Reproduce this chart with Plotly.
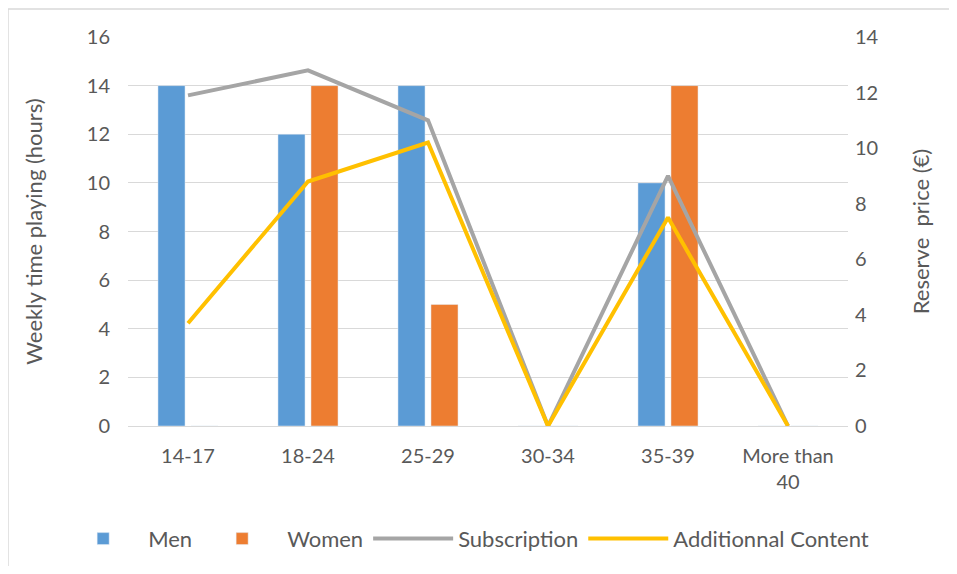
import plotly.graph_objects as go

# data
age_groups = ['14-17', '18-24', '25-29', '30-34', '35-39', 'More than<br>40']
men = [14, 12, 14, 0, 10, 0]
women = [0, 14, 5, 0, 14, 0]
subscription = [11.9, 12.8, 11.0, 0, 9.0, 0]
additional_content = [3.7, 8.8, 10.2, 0, 7.5, 0]

text_color = '#595959'
font_family = 'Lato, Open Sans, sans-serif'

fig = go.Figure()
fig.add_trace(go.Bar(x=age_groups, y=men, name='Men', marker_color='#5b9bd5'))
fig.add_trace(go.Bar(x=age_groups, y=women, name='Women', marker_color='#ed7d31'))
fig.add_trace(go.Scatter(x=age_groups, y=subscription, name='Subscription', yaxis='y2',
                         mode='lines', line=dict(color='#a5a5a5', width=4)))
fig.add_trace(go.Scatter(x=age_groups, y=additional_content, name='Additionnal Content', yaxis='y2',
                         mode='lines', line=dict(color='#ffc000', width=4)))

# page has an 8px body margin, so the figure is a bit smaller than the window
fig.update_layout(
    width=941, height=558,
    margin=dict(l=120, r=101, t=29, b=140, autoexpand=False),
    paper_bgcolor='white', plot_bgcolor='white',
    font=dict(family=font_family, color=text_color, size=20),
    barmode='group', bargap=0.45, bargroupgap=0.18,
    xaxis=dict(showgrid=False, showline=True, linecolor='#d9d9d9', ticks='',
               tickfont=dict(size=20), ticklabelstandoff=12),
    yaxis=dict(title=dict(text='Weekly time playing (hours)', font=dict(size=22), standoff=38),
               range=[0, 16], dtick=2, gridcolor='#d9d9d9', zeroline=False,
               ticks='', tickfont=dict(size=20), ticklabelstandoff=17),
    yaxis2=dict(title=dict(text='Reserve  price (€)', font=dict(size=22), standoff=36),
                range=[0, 14], dtick=2, overlaying='y', side='right', showgrid=False,
                zeroline=False, ticks='', tickfont=dict(size=20), ticklabelstandoff=6),
    legend=dict(orientation='h', x=-0.097, xanchor='left', y=-0.29, yanchor='middle',
                font=dict(size=22), itemwidth=80, traceorder='normal'),
    shapes=[dict(type='rect', xref='paper', yref='paper', x0=-0.1667, x1=2, y0=-2, y1=1.072,
                 line=dict(color='#d9d9d9', width=1.5), layer='below')],
)

fig.write_html("out.html")
